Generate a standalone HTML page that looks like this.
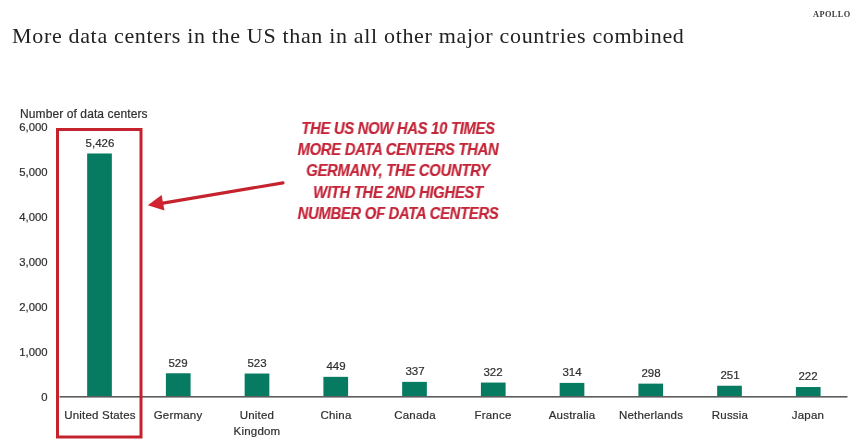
<!DOCTYPE html>
<html><head><meta charset="utf-8"><style>
html,body{margin:0;padding:0;background:#fff;}
body{width:860px;height:445px;position:relative;overflow:hidden;font-family:"Liberation Sans",sans-serif;}
.title{position:absolute;left:12px;top:23px;font-family:"Liberation Serif",serif;font-size:22px;color:#222;white-space:nowrap;letter-spacing:0.67px;}
.apollo{position:absolute;left:812.5px;top:10px;font-family:"Liberation Serif",serif;font-weight:bold;font-size:8.3px;letter-spacing:0.45px;color:#3a3a3a;}
.ytitle{position:absolute;left:20px;top:107px;font-size:12px;-webkit-text-stroke:0.2px #2e2e2e;letter-spacing:0.1px;color:#2e2e2e;white-space:nowrap;}
.ylab{position:absolute;left:0;width:47.5px;text-align:right;font-size:11.3px;-webkit-text-stroke:0.2px #2e2e2e;color:#2e2e2e;line-height:17px;}
.val{position:absolute;width:80px;text-align:center;font-size:11.5px;-webkit-text-stroke:0.2px #2e2e2e;color:#2e2e2e;line-height:17px;}
.cat{position:absolute;width:90px;text-align:center;font-size:11.5px;letter-spacing:0.2px;-webkit-text-stroke:0.2px #2e2e2e;color:#2e2e2e;line-height:16px;}
.note{position:absolute;left:250px;top:118.2px;-webkit-text-stroke:0.2px #c42538;width:296px;text-align:center;font-weight:bold;font-style:italic;font-size:16px;line-height:21.2px;letter-spacing:-0.3px;transform:scaleX(0.925);color:#c42538;}
svg{position:absolute;left:0;top:0;}
#wrap{position:absolute;left:0;top:0;width:860px;height:445px;will-change:auto;}
div{will-change:transform;}
</style></head><body><div id="wrap">
<div class="title">More data centers in the US than in all other major countries combined</div>
<div class="apollo">APOLLO</div>
<div class="ytitle">Number of data centers</div>
<div class="ylab" style="top:388.60px">0</div><div class="ylab" style="top:343.60px">1,000</div><div class="ylab" style="top:298.60px">2,000</div><div class="ylab" style="top:253.60px">3,000</div><div class="ylab" style="top:208.60px">4,000</div><div class="ylab" style="top:163.60px">5,000</div><div class="ylab" style="top:118.60px">6,000</div>
<svg width="860" height="445" viewBox="0 0 860 445">
<rect x="87.15" y="153.48" width="24.7" height="243.52" fill="#067b62"/><rect x="165.90" y="373.26" width="24.7" height="23.74" fill="#067b62"/><rect x="244.65" y="373.53" width="24.7" height="23.47" fill="#067b62"/><rect x="323.40" y="376.85" width="24.7" height="20.15" fill="#067b62"/><rect x="402.15" y="381.88" width="24.7" height="15.12" fill="#067b62"/><rect x="480.90" y="382.55" width="24.7" height="14.45" fill="#067b62"/><rect x="559.65" y="382.91" width="24.7" height="14.09" fill="#067b62"/><rect x="638.40" y="383.63" width="24.7" height="13.37" fill="#067b62"/><rect x="717.15" y="385.74" width="24.7" height="11.26" fill="#067b62"/><rect x="795.90" y="387.04" width="24.7" height="9.96" fill="#067b62"/>
<rect x="59.5" y="396" width="788" height="1.6" fill="#5c5c5c"/>
<rect x="57.5" y="129.5" width="83.5" height="307.5" fill="none" stroke="#c4232d" stroke-width="3"/>
<line x1="283" y1="182.9" x2="160" y2="203.6" stroke="#c4232d" stroke-width="3.1" stroke-linecap="round"/>
<polygon points="147.8,205.2 161.6,195.0 164.5,210.6" fill="#d02430"/>
</svg>
<div class="val" style="left:59.50px;top:134.78px">5,426</div><div class="val" style="left:138.25px;top:354.56px">529</div><div class="val" style="left:217.00px;top:354.83px">523</div><div class="val" style="left:295.75px;top:358.15px">449</div><div class="val" style="left:374.50px;top:363.18px">337</div><div class="val" style="left:453.25px;top:363.85px">322</div><div class="val" style="left:532.00px;top:364.21px">314</div><div class="val" style="left:610.75px;top:364.93px">298</div><div class="val" style="left:689.50px;top:367.04px">251</div><div class="val" style="left:768.25px;top:368.34px">222</div>
<div class="cat" style="left:54.50px;top:407px">United States</div><div class="cat" style="left:133.25px;top:407px">Germany</div><div class="cat" style="left:212.00px;top:407px">United<br>Kingdom</div><div class="cat" style="left:290.75px;top:407px">China</div><div class="cat" style="left:369.50px;top:407px">Canada</div><div class="cat" style="left:448.25px;top:407px">France</div><div class="cat" style="left:527.00px;top:407px">Australia</div><div class="cat" style="left:605.75px;top:407px">Netherlands</div><div class="cat" style="left:684.50px;top:407px">Russia</div><div class="cat" style="left:763.25px;top:407px">Japan</div>
<div class="note">THE US NOW HAS 10 TIMES<br>MORE DATA CENTERS THAN<br>GERMANY, THE COUNTRY<br>WITH THE 2ND HIGHEST<br>NUMBER OF DATA CENTERS</div>
</div></body></html>
